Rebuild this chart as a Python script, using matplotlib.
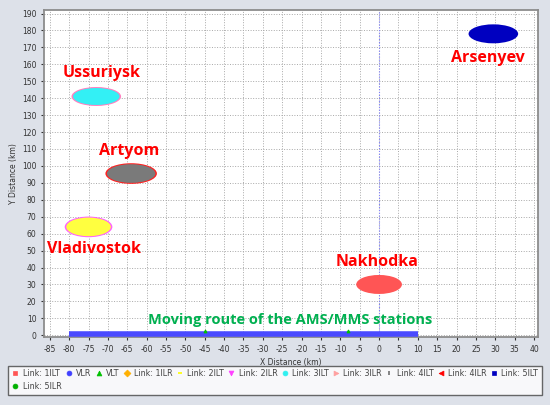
import matplotlib
matplotlib.use("Agg")
import matplotlib.pyplot as plt
from matplotlib.patches import Ellipse
from matplotlib.lines import Line2D

plt.rcParams["axes.unicode_minus"] = False

# station areas: name, centre x/y (km), size (km), fill colour, fringe colour
stations = ["Ussuriysk", "Artyom", "Vladivostok", "Nakhodka", "Arsenyev"]
st_x = [-73, -64, -75, 0, 29.5]
st_y = [141, 95.5, 64, 30, 178]
st_w = [12, 12.5, 11.5, 11, 12]
st_h = [10, 11, 11, 10, 10]
st_fill = ["#33f0f5", "#7a7a7a", "#ffff40", "#ff5555", "#0000c0"]
st_edge = ["#ff80c0", "#ff2020", "#ff60ff", "#ff5555", "#0000c0"]

# label positions (km)
lab_x = [-71.5, -64.5, -73.5, -0.5, 28]
lab_y = [155, 109, 51, 43, 164]

# moving route of the AMS/MMS stations
route_x = [-80, 10]
route_y = [1, 1]
vlt_x = [-45, -8]
vlt_y = [2.5, 2.5]

xticks = list(range(-85, 41, 5))
yticks = list(range(0, 191, 10))

legend_names = ["Link: 1ILT", "VLR", "VLT", "Link: 1ILR", "Link: 2ILT", "Link: 2ILR",
                "Link: 3ILT", "Link: 3ILR", "Link: 4ILT", "Link: 4ILR", "Link: 5ILT",
                "Link: 5ILR"]
legend_markers = ["s", "o", "^", "D", "_", "v", "o", ">", "|", "<", "s", "o"]
legend_colors = ["#ff5555", "#4040ff", "#00c000", "#ffb000", "#ffff00", "#ff40ff",
                 "#30f0f0", "#ffa0a0", "#707070", "#ff0000", "#0000c0", "#00b000"]

fig = plt.figure(figsize=(5.5, 4.05), dpi=100)
fig.patch.set_facecolor("#dde1e9")
ax = fig.add_axes([0.08, 0.168, 0.898, 0.807])
ax.set_facecolor("white")

ax.set_xlim(-86.5, 41)
ax.set_ylim(-1, 192)
ax.set_xticks(xticks)
ax.set_yticks(yticks)
ax.tick_params(labelsize=5.5, length=2, colors="#333333")
ax.grid(True, linestyle=":", color="#a8a8a8", linewidth=0.7)
ax.set_axisbelow(True)
for sp in ax.spines.values():
    sp.set_color("#8c8c8c")
    sp.set_linewidth(1.3)

ax.axvline(0, color="#8080ff", linestyle=":", linewidth=0.8, zorder=1)

for i in range(len(stations)):
    ax.add_patch(Ellipse((st_x[i], st_y[i]), st_w[i] + 0.8, st_h[i] + 1.2,
                         facecolor=st_edge[i], edgecolor="none", zorder=2))
    ax.add_patch(Ellipse((st_x[i], st_y[i]), st_w[i], st_h[i],
                         facecolor=st_fill[i], edgecolor="none", zorder=3))
    ax.text(lab_x[i], lab_y[i], stations[i], color="#ff0000", fontsize=11.5,
            fontweight="bold", family="Open Sans", ha="center", va="center", zorder=5)

ax.plot(route_x, route_y, color="#4a4aff", linewidth=4, solid_capstyle="butt", zorder=4)
ax.scatter(vlt_x, vlt_y, marker="^", color="#00c000", s=3, zorder=4)
ax.text(-23, 9, "Moving route of the AMS/MMS stations", color="#00b050", fontsize=10.5,
        fontweight="bold", family="Open Sans", ha="center", va="center", zorder=5)

ax.set_xlabel("X Distance (km)", fontsize=5.5, color="#333333", labelpad=3)
ax.set_ylabel("Y Distance (km)", fontsize=5.5, color="#333333", labelpad=3)

handles = [Line2D([], [], linestyle="none", marker=m, color=c, markersize=3.5,
                  markeredgewidth=1.2 if m in ("_", "|") else 0.5)
           for m, c in zip(legend_markers, legend_colors)]
# legend fills column by column: put the last entry right after the first
order = [0, 11] + list(range(1, 11))
leg = fig.legend([handles[i] for i in order], [legend_names[i] for i in order],
                 loc="lower left", bbox_to_anchor=(0.008, 0.015, 0.984, 0.075),
                 ncol=11, fontsize=5.8, frameon=True, fancybox=False,
                 handlelength=0.8, handletextpad=0.5, columnspacing=1.0,
                 borderpad=0.45, labelspacing=0.5, mode="expand",
                 bbox_transform=fig.transFigure, labelcolor="#444444")
leg.get_frame().set_edgecolor("#444444")
leg.get_frame().set_linewidth(1.0)

fig.savefig("out.png", dpi=100, facecolor=fig.get_facecolor())
